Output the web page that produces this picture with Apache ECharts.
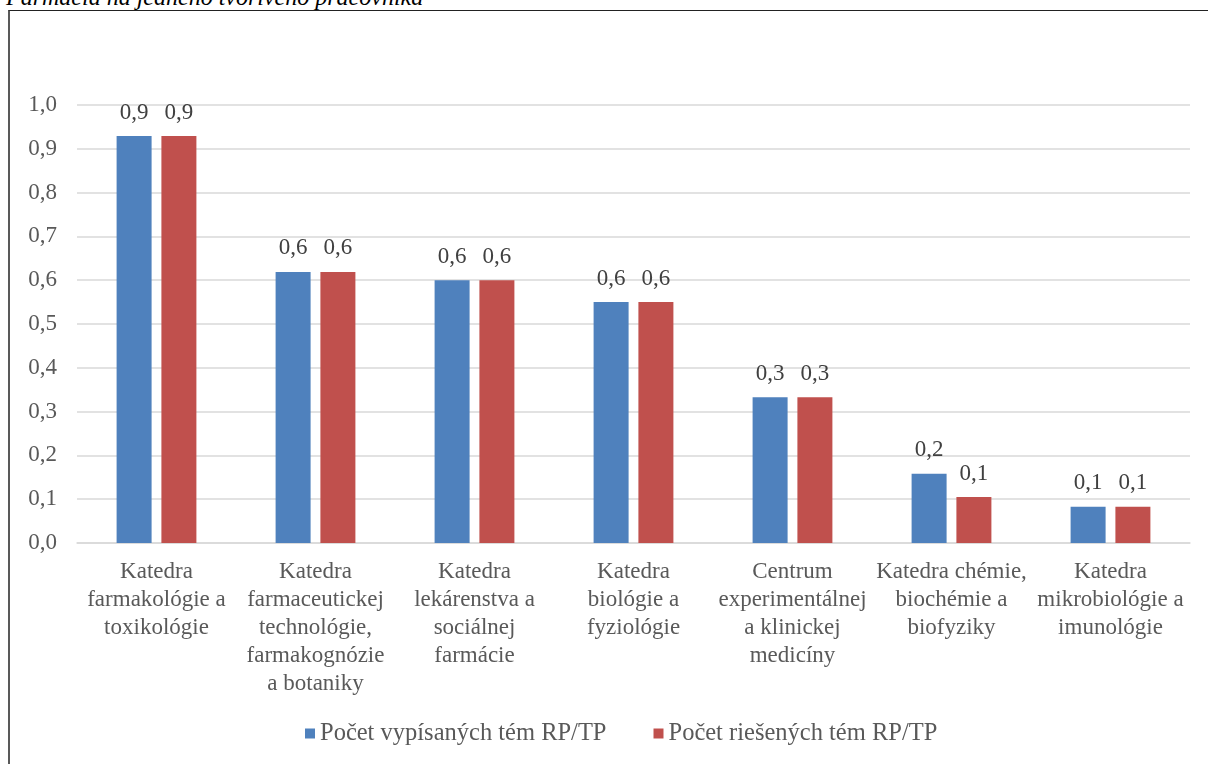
<!DOCTYPE html>
<html lang="sk">
<head>
    <meta charset="UTF-8">
    <title>Farmácia</title>
    <script src="https://cdn.jsdelivr.net/npm/echarts@6/dist/echarts.min.js"></script>
    <style>
        html, body{
            margin: 0;
            padding: 0;
            background: #fff;
        }
        .title{
            position: absolute;
            left: 6px;
            top: -16px;
            font-family: "Liberation Serif", serif;
            font-style: italic;
            font-size: 24px;
            color: #000;
            white-space: nowrap;
        }
        .frame{
            position: absolute;
            left: 8px;
            top: 10px;
            width: 1300px;
            height: 800px;
            border-left: 2px solid #595959;
            border-top: 1.5px solid #222;
        }
        #chart{
            position: absolute;
            left: 0;
            top: 0;
            width: 1208px;
            height: 764px;
        }
    </style>
</head>
<body>
    <div class="title">Farmácia na jedného tvorivého pracovníka</div>
    <div class="frame"></div>
    <div id="chart"></div>
<script>
    // kategórie (pracoviská)
    var katedry = [
        'Katedra\nfarmakológie a\ntoxikológie',
        'Katedra\nfarmaceutickej\ntechnológie,\nfarmakognózie\na botaniky',
        'Katedra\nlekárenstva a\nsociálnej\nfarmácie',
        'Katedra\nbiológie a\nfyziológie',
        'Centrum\nexperimentálnej\na klinickej\nmedicíny',
        'Katedra chémie,\nbiochémie a\nbiofyziky',
        'Katedra\nmikrobiológie a\nimunológie'
    ];
    var vypisane = [0.929, 0.619, 0.6, 0.55, 0.333, 0.158, 0.083];
    var riesene = [0.929, 0.619, 0.6, 0.55, 0.333, 0.105, 0.083];
    var serieNames = ['Počet vypísaných tém RP/TP', 'Počet riešených tém RP/TP'];

    var font = '"Liberation Serif", "Times New Roman", serif';
    function ciarka(v){
        return Number(v).toFixed(1).replace('.', ',');
    }

    var myChart = echarts.init(document.getElementById('chart'));
    var labelStyle = {
        show: true,
        position: 'top',
        distance: 12,
        fontFamily: font,
        fontSize: 23,
        color: '#404040',
        formatter: function(p){ return ciarka(p.value); }
    };
    var option = {
        animation: false,
        textStyle: { fontFamily: font },
        grid: {
            left: 77,
            right: 18,
            top: 105,
            bottom: 221,
            containLabel: false
        },
        legend: {
            bottom: 13,
            left: 300,
            padding: 5,
            itemWidth: 10,
            itemHeight: 10,
            itemGap: 47,
            icon: 'rect',
            textStyle: {
                fontFamily: font,
                fontSize: 24.5,
                color: '#595959'
            },
            data: serieNames
        },
        xAxis: {
            type: 'category',
            data: katedry,
            axisLine: { lineStyle: { color: '#d9d9d9', width: 1.5 } },
            axisTick: { show: false },
            axisLabel: {
                interval: 0,
                margin: 15,
                fontFamily: font,
                fontSize: 23,
                lineHeight: 28,
                color: '#595959'
            }
        },
        yAxis: {
            type: 'value',
            min: 0,
            max: 1,
            interval: 0.1,
            axisLine: { show: false },
            axisTick: { show: false },
            splitLine: { lineStyle: { color: '#d9d9d9', width: 1.5 } },
            axisLabel: {
                margin: 20,
                fontFamily: font,
                fontSize: 23,
                color: '#595959',
                formatter: ciarka
            }
        },
        series: [{
            name: serieNames[0],
            type: 'bar',
            data: vypisane,
            barWidth: 35,
            barGap: '28%',
            itemStyle: { color: '#4f81bd' },
            label: labelStyle
        }, {
            name: serieNames[1],
            type: 'bar',
            data: riesene,
            barWidth: 35,
            itemStyle: { color: '#c0504d' },
            label: labelStyle
        }]
    };
    myChart.setOption(option);

    window.onresize = function(){
        myChart.resize();
    }
</script>
</body>
</html>
